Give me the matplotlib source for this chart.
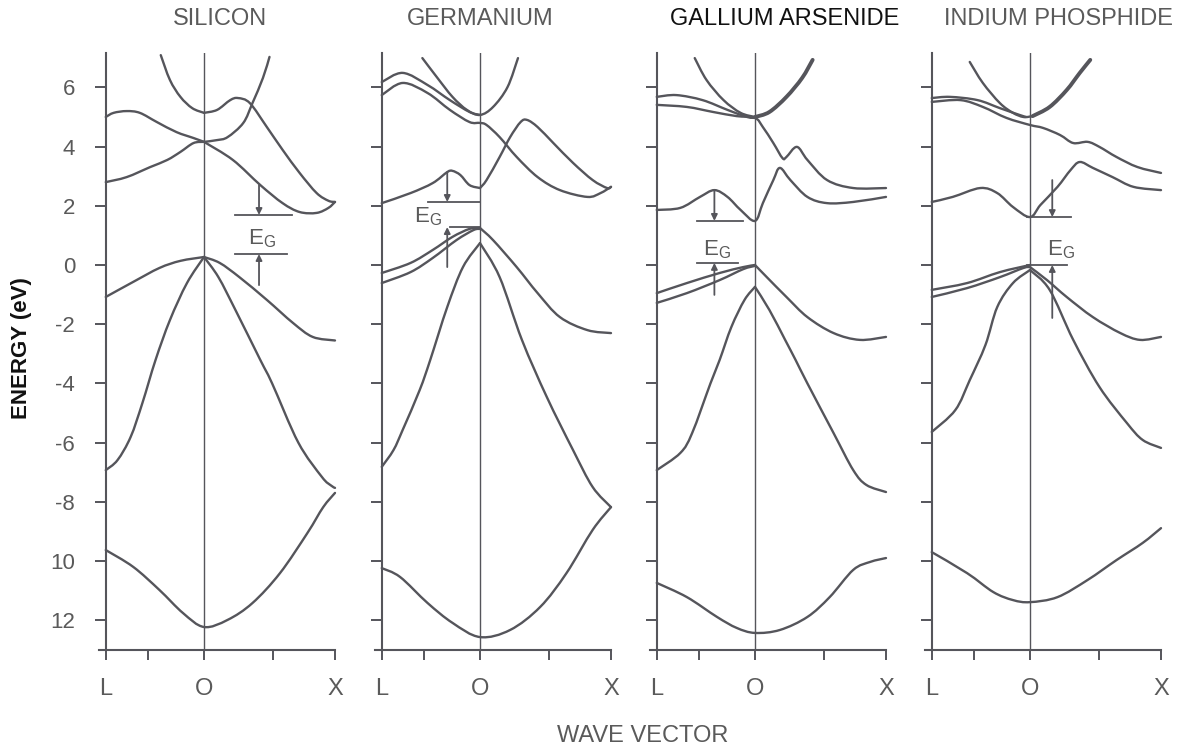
import matplotlib
matplotlib.use('Agg')
import matplotlib.pyplot as plt
from matplotlib.path import Path
from matplotlib.patches import PathPatch

plt.rcParams['font.family'] = ['Liberation Sans', 'DejaVu Sans']
plt.rcParams['mathtext.fontset'] = 'custom'
plt.rcParams['mathtext.rm'] = 'Liberation Sans'

INK = '#55555b'    # line grey of the scan
TEXT = '#5a5a5a'

# ---- band data, (k, E); L = -0.75, O = 0, X = 1 ----

# silicon
si_c1 = [(-0.33, 7.09), (-0.26, 6.25), (-0.18, 5.68), (-0.09, 5.30), (0.0, 5.14)]
si_c2 = [(0.0, 5.14), (0.10, 5.24), (0.20, 5.57), (0.26, 5.64), (0.35, 5.47), (0.48, 4.66),
         (0.60, 3.89), (0.73, 3.11), (0.86, 2.43), (0.95, 2.17), (1.0, 2.13)]
si_c3 = [(0.0, 4.16), (0.10, 4.22), (0.18, 4.32), (0.30, 4.80), (0.37, 5.47), (0.45, 6.32), (0.50, 7.03)]
si_c4 = [(0.0, 4.16), (0.22, 3.55), (0.43, 2.70), (0.60, 2.09), (0.73, 1.79), (0.86, 1.76),
         (0.95, 1.93), (1.0, 2.13)]
si_c5 = [(-0.75, 5.00), (-0.69, 5.14), (-0.59, 5.20), (-0.49, 5.14), (-0.36, 4.83), (-0.21, 4.49),
         (-0.08, 4.29), (0.0, 4.16)]
si_c6 = [(-0.75, 2.80), (-0.59, 2.97), (-0.41, 3.31), (-0.28, 3.55), (-0.18, 3.82), (-0.08, 4.12), (0.0, 4.16)]
si_v1 = [(-0.75, -1.08), (-0.54, -0.57), (-0.34, -0.10), (-0.18, 0.14), (0.0, 0.27)]
si_v2 = [(0.0, 0.27), (0.12, 0.07), (0.27, -0.41), (0.48, -1.18), (0.68, -1.96), (0.83, -2.43), (1.0, -2.55)]
si_v3 = [(0.0, 0.27), (-0.13, -0.61), (-0.26, -1.86), (-0.37, -3.21), (-0.47, -4.66), (-0.56, -5.81),
         (-0.66, -6.59), (-0.75, -6.93)]
si_v4 = [(0.0, 0.27), (0.11, -0.41), (0.24, -1.52), (0.43, -3.21), (0.52, -4.00), (0.72, -6.00),
         (0.90, -7.16), (0.97, -7.45), (1.0, -7.53)]
si_v5 = [(-0.75, -9.63), (-0.54, -10.20), (-0.34, -10.98), (-0.16, -11.76), (0.0, -12.23), (0.18, -11.99),
         (0.37, -11.42), (0.58, -10.41), (0.79, -9.05), (0.91, -8.18), (1.0, -7.70)]

# germanium
ge_c1 = [(-0.44, 6.99), (-0.33, 6.35), (-0.21, 5.68), (-0.10, 5.24), (0.0, 5.07), (0.10, 5.34),
         (0.21, 6.01), (0.29, 6.99)]
ge_c2 = [(-0.75, 6.18), (-0.59, 6.49), (-0.40, 6.08), (-0.23, 5.57), (-0.08, 5.17), (0.0, 5.07)]
ge_c3 = [(-0.75, 5.74), (-0.59, 6.15), (-0.40, 5.81), (-0.23, 5.24), (-0.08, 4.83), (0.0, 4.80),
         (0.05, 4.73), (0.15, 4.32), (0.28, 3.65), (0.44, 2.97), (0.61, 2.53), (0.82, 2.30),
         (0.92, 2.43), (1.0, 2.64)]
ge_c4 = [(0.0, 2.60), (0.05, 2.87), (0.15, 3.65), (0.23, 4.32), (0.31, 4.83), (0.36, 4.90), (0.44, 4.66),
         (0.56, 4.12), (0.71, 3.45), (0.86, 2.87), (0.97, 2.60), (1.0, 2.64)]
ge_c5 = [(-0.75, 2.09), (-0.53, 2.43), (-0.36, 2.77), (-0.25, 3.14), (-0.21, 3.18), (-0.15, 3.04),
         (-0.08, 2.70), (0.0, 2.60)]
ge_v1 = [(-0.75, -0.27), (-0.53, 0.07), (-0.36, 0.51), (-0.21, 0.95), (-0.08, 1.22), (0.0, 1.25)]
ge_v2 = [(-0.75, -0.61), (-0.53, -0.24), (-0.36, 0.24), (-0.18, 0.84), (-0.05, 1.18), (0.0, 1.22)]
ge_v3 = [(0.0, 1.25), (0.10, 0.84), (0.28, -0.07), (0.44, -0.95), (0.61, -1.76), (0.82, -2.20), (1.0, -2.30)]
ge_v4 = [(0.0, 0.74), (-0.13, -0.07), (-0.25, -1.42), (-0.38, -3.21), (-0.46, -4.22),
         (-0.59, -5.57), (-0.66, -6.25), (-0.75, -6.82)]
ge_v5 = [(0.0, 0.74), (0.15, -0.41), (0.32, -2.53), (0.51, -4.46), (0.71, -6.25), (0.86, -7.50), (1.0, -8.18)]
ge_v6 = [(-0.75, -10.24), (-0.61, -10.54), (-0.40, -11.42), (-0.21, -12.09), (0.0, -12.57), (0.23, -12.33),
         (0.46, -11.55), (0.66, -10.41), (0.86, -8.95), (1.0, -8.18)]

# gallium arsenide
ga_c1l = [(-0.46, 6.99), (-0.37, 6.25), (-0.24, 5.57), (-0.11, 5.14), (0.0, 5.0)]
ga_c1r = [(0.0, 5.0), (0.11, 5.17), (0.24, 5.68), (0.36, 6.32), (0.44, 6.93)]
ga_c2 = [(-0.75, 5.68), (-0.60, 5.74), (-0.40, 5.57), (-0.21, 5.24), (-0.06, 5.0), (0.0, 4.97)]
ga_c3 = [(-0.75, 5.41), (-0.52, 5.34), (-0.32, 5.17), (-0.14, 5.03), (0.0, 4.97), (0.06, 4.66),
         (0.14, 4.12), (0.21, 3.61), (0.24, 3.65), (0.32, 3.99), (0.40, 3.55), (0.55, 2.87),
         (0.75, 2.60), (1.0, 2.60)]
ga_c4 = [(-0.75, 1.86), (-0.57, 1.93), (-0.42, 2.30), (-0.31, 2.53), (-0.21, 2.30), (-0.11, 1.86),
         (0.0, 1.49), (0.06, 2.09), (0.14, 2.87), (0.19, 3.28), (0.27, 2.87), (0.40, 2.30),
         (0.55, 2.09), (0.75, 2.13), (1.0, 2.30)]
ga_v1 = [(-0.75, -0.95), (-0.52, -0.61), (-0.27, -0.27), (-0.09, -0.07), (0.0, 0.0)]
ga_v2 = [(-0.75, -1.28), (-0.52, -0.95), (-0.27, -0.51), (-0.09, -0.14), (0.0, -0.03)]
ga_v3 = [(0.0, 0.0), (0.09, -0.41), (0.24, -1.08), (0.40, -1.76), (0.60, -2.30), (0.80, -2.53), (1.0, -2.43)]
ga_v4 = [(0.0, -0.74), (-0.08, -1.18), (-0.18, -2.09), (-0.27, -3.21), (-0.34, -4.00), (-0.48, -5.68),
         (-0.57, -6.35), (-0.75, -6.93)]
ga_v5 = [(0.0, -0.74), (0.11, -1.52), (0.23, -2.53), (0.31, -3.21), (0.40, -4.00), (0.60, -5.68),
         (0.75, -6.93), (0.85, -7.43), (1.0, -7.67)]
ga_v6 = [(-0.75, -10.74), (-0.52, -11.22), (-0.29, -11.89), (-0.14, -12.26), (0.0, -12.43), (0.19, -12.33),
         (0.40, -11.89), (0.57, -11.22), (0.75, -10.30), (0.88, -10.03), (1.0, -9.90)]

# indium phosphide
in_c1l = [(-0.46, 6.86), (-0.36, 6.15), (-0.23, 5.47), (-0.13, 5.14), (-0.05, 5.00), (0.02, 5.03)]
in_c1r = [(0.02, 5.03), (0.15, 5.34), (0.28, 5.91), (0.38, 6.49), (0.46, 6.93)]
in_c2 = [(-0.75, 5.64), (-0.61, 5.68), (-0.40, 5.57), (-0.23, 5.30), (-0.08, 5.07), (-0.03, 5.0)]
in_c3 = [(-0.75, 5.51), (-0.53, 5.57), (-0.36, 5.34), (-0.18, 4.97), (0.0, 4.73), (0.10, 4.63),
         (0.23, 4.39), (0.33, 4.12), (0.44, 4.16), (0.53, 3.99), (0.66, 3.65), (0.82, 3.31), (1.0, 3.11)]
in_c4 = [(-0.75, 2.13), (-0.59, 2.30), (-0.38, 2.60), (-0.25, 2.43), (-0.13, 1.96), (0.0, 1.62),
         (0.08, 2.03), (0.21, 2.64), (0.31, 3.21), (0.38, 3.48), (0.48, 3.28), (0.63, 2.97),
         (0.79, 2.64), (1.0, 2.53)]
in_v1 = [(-0.75, -0.84), (-0.48, -0.61), (-0.23, -0.24), (0.0, 0.0)]
in_v2 = [(-0.75, -1.08), (-0.48, -0.78), (-0.23, -0.41), (-0.05, -0.10), (0.0, -0.07)]
in_v3 = [(0.0, -0.07), (0.13, -0.51), (0.28, -1.08), (0.48, -1.76), (0.69, -2.30), (0.84, -2.53), (1.0, -2.43)]
in_v4 = [(0.0, -0.17), (-0.13, -0.61), (-0.25, -1.42), (-0.34, -2.70), (-0.46, -3.89), (-0.57, -4.90),
         (-0.75, -5.64)]
in_v5 = [(0.0, -0.17), (0.15, -0.84), (0.33, -2.53), (0.53, -4.12), (0.74, -5.34), (0.86, -5.91), (1.0, -6.18)]
in_v6 = [(-0.75, -9.70), (-0.48, -10.41), (-0.28, -11.05), (-0.13, -11.32), (0.0, -11.39), (0.21, -11.22),
         (0.44, -10.64), (0.66, -9.97), (0.86, -9.39), (1.0, -8.89)]

# band gap markers: top/bottom = (k from, k to, E), arrows start at (E above, E below)
si_gap = dict(top=(0.24, 0.67, 1.69), bottom=(0.24, 0.63, 0.37), arrow_k=0.42, start=(2.70, -0.68), label=(0.44, 0.68))
ge_gap = dict(top=(-0.40, 0.0, 2.13), bottom=(-0.23, 0.0, 1.28), arrow_k=-0.25, start=(3.14, -0.07), label=(-0.40, 1.45))
ga_gap = dict(top=(-0.44, -0.09, 1.49), bottom=(-0.44, -0.13, 0.07), arrow_k=-0.31, start=(2.53, -1.01), label=(-0.29, 0.34))
in_gap = dict(top=(-0.02, 0.31, 1.62), bottom=(-0.02, 0.28, 0.0), arrow_k=0.17, start=(2.87, -1.79), label=(0.24, 0.34))

titles = ['SILICON', 'GERMANIUM', 'GALLIUM ARSENIDE', 'INDIUM PHOSPHIDE']
energy_ticks = [6, 4, 2, 0, -2, -4, -6, -8, -10, -12]
energy_labels = ['6', '4', '2', '0', '-2', '-4', '-6', '-8', '10', '12']
k_ticks = [-0.75, -0.43, 0.0, 0.53, 1.0]
k_labels = ['L', '', 'O', '', 'X']

panels = [
    ([si_c1, si_c2, si_c3, si_c4, si_c5, si_c6, si_v1, si_v2, si_v3, si_v4, si_v5], [], si_gap),
    ([ge_c1, ge_c2, ge_c3, ge_c4, ge_c5, ge_v1, ge_v2, ge_v3, ge_v4, ge_v5, ge_v6], [], ge_gap),
    ([ga_c1l, ga_c2, ga_c3, ga_c4, ga_v1, ga_v2, ga_v3, ga_v4, ga_v5, ga_v6], [ga_c1r], ga_gap),
    ([in_c1l, in_c2, in_c3, in_c4, in_v1, in_v2, in_v3, in_v4, in_v5, in_v6], [in_c1r], in_gap),
]


def band_path(points):
    # smooth bezier line through the read points (the curves are hand drawn in the original)
    verts = [points[0]]
    codes = [Path.MOVETO]
    n = len(points)
    for j in range(n - 1):
        p0 = points[j - 1] if j > 0 else points[j]
        p1 = points[j]
        p2 = points[j + 1]
        p3 = points[j + 2] if j + 2 < n else points[j + 1]
        c1 = (p1[0] + (p2[0] - p0[0]) / 6, p1[1] + (p2[1] - p0[1]) / 6)
        c2 = (p2[0] - (p3[0] - p1[0]) / 6, p2[1] - (p3[1] - p1[1]) / 6)
        verts += [c1, c2, p2]
        codes += [Path.CURVE4] * 3
    return Path(verts, codes)


# ---- layout (pixels of the 1184x749 picture) ----
W, H = 1184, 749
o_px = [204, 480, 755, 1030]      # where the O line sits in each panel
title_px = [220, 480, 785, 1058]
K_PX = 131.0
E_PX = 29.6
ZERO_PY = 265.0
XLIM = (-0.9, 1.1)
YLIM = (-13.0, 7.15)

fig = plt.figure(figsize=(W / 100, H / 100), dpi=100)

for i, (bands, thick, gap) in enumerate(panels):
    left = (o_px[i] + XLIM[0] * K_PX) / W
    width = (XLIM[1] - XLIM[0]) * K_PX / W
    bottom = (H - (ZERO_PY - YLIM[0] * E_PX)) / H
    height = (YLIM[1] - YLIM[0]) * E_PX / H
    ax = fig.add_axes([left, bottom, width, height])
    ax.set_xlim(XLIM)
    ax.set_ylim(YLIM)
    ax.patch.set_visible(False)

    ax.spines['top'].set_visible(False)
    ax.spines['right'].set_visible(False)
    ax.spines['left'].set_position(('data', -0.75))
    ax.spines['left'].set_bounds(YLIM[0], YLIM[1])
    ax.spines['bottom'].set_bounds(-0.80, 1.0)
    for s in ['left', 'bottom']:
        ax.spines[s].set_color(INK)
        ax.spines[s].set_linewidth(1.5)

    ax.set_yticks(energy_ticks)
    ax.set_yticklabels(energy_labels if i == 0 else [''] * len(energy_ticks))
    ax.set_xticks(k_ticks)
    ax.set_xticklabels(k_labels)
    ax.tick_params(axis='y', direction='out', length=8, width=1.4, color=INK,
                   pad=14, labelsize=16, labelcolor=TEXT)
    ax.tick_params(axis='x', direction='out', length=7, width=1.4, color=INK,
                   pad=13, labelsize=17, labelcolor=TEXT)

    ax.axvline(0, color=INK, lw=1.0)

    for band in bands:
        ax.add_patch(PathPatch(band_path(band), fill=False, edgecolor=INK, lw=1.7,
                               capstyle='round', joinstyle='round'))
    for band in thick:
        ax.add_patch(PathPatch(band_path(band), fill=False, edgecolor=INK, lw=2.8,
                               capstyle='round', joinstyle='round'))

    # E_G marker
    k0, k1, e = gap['top']
    ax.plot([k0, k1], [e, e], color=INK, lw=1.3)
    k0, k1, e_lo = gap['bottom']
    ax.plot([k0, k1], [e_lo, e_lo], color=INK, lw=1.3)
    ak = gap['arrow_k']
    e_from_top, e_from_bot = gap['start']
    arrow = dict(arrowstyle='-|>', color=INK, lw=1.3, mutation_scale=9, shrinkA=0, shrinkB=0)
    ax.annotate('', xy=(ak, e), xytext=(ak, e_from_top), arrowprops=arrow)
    ax.annotate('', xy=(ak, e_lo), xytext=(ak, e_from_bot), arrowprops=arrow)
    lk, le = gap['label']
    ax.text(lk, le, r'E$_{\rm G}$', ha='center', va='baseline', fontsize=16, color=TEXT)

    fig.text(title_px[i] / W, 1 - 19 / H, titles[i], ha='center', va='center', fontsize=17,
             color='#111111' if i == 2 else TEXT)

fig.text(22 / W, 1 - 348 / H, 'ENERGY (eV)', rotation=90, ha='center', va='center',
         fontsize=16, fontweight='bold', color='#111111')
fig.text(643 / W, 1 - 736 / H, 'WAVE VECTOR', ha='center', va='center', fontsize=17, color=TEXT)

fig.savefig('out.png', dpi=100)
